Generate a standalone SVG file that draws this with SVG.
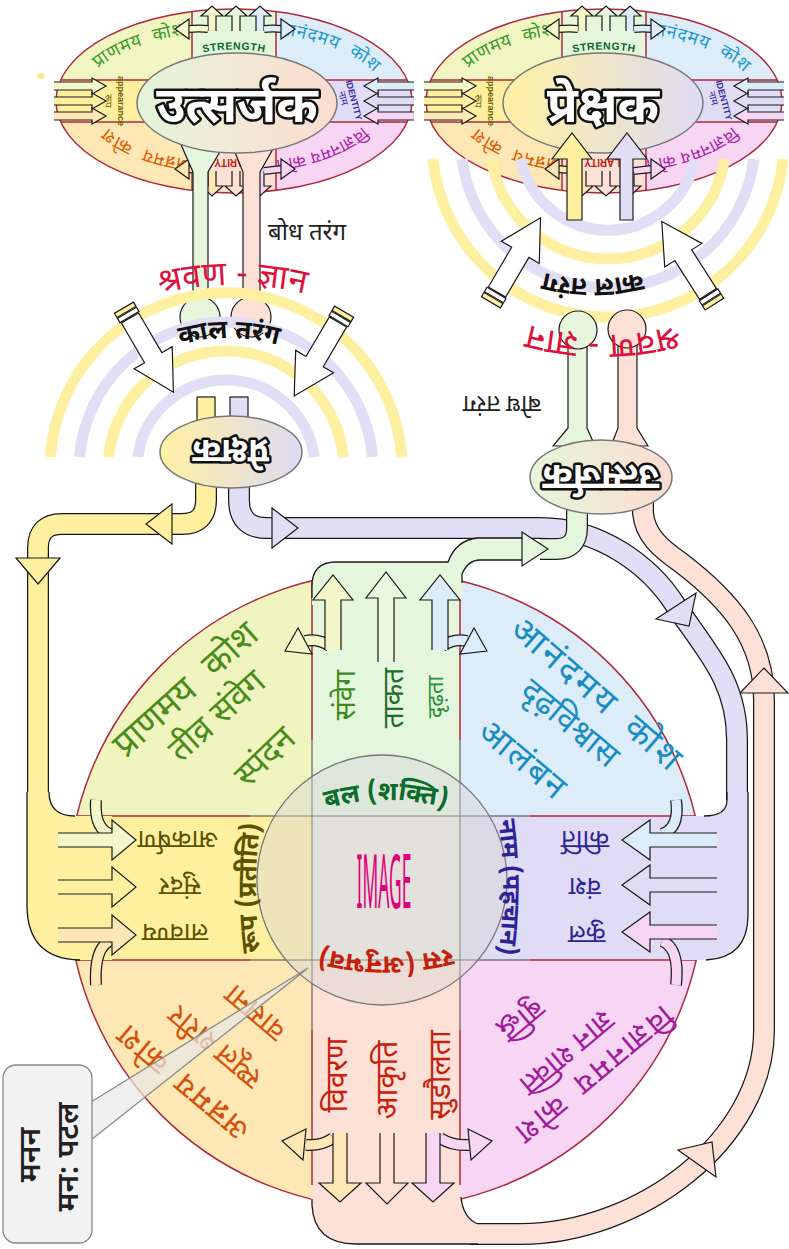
<svg xmlns="http://www.w3.org/2000/svg" width="789" height="1249" viewBox="0 0 789 1249">
<defs>
<style>
text{font-family:"Noto Sans Devanagari","Noto Sans","DejaVu Sans",sans-serif}
.en{font-family:"Liberation Sans",Arial,sans-serif;font-weight:bold}
.k{fill:none;stroke:#1a1a1a;stroke-width:1.3}
.a{stroke:#1a1a1a;stroke-width:1.2}
.rd{fill:none;stroke:#b0283c;stroke-width:1.5}
.gl{fill:none;stroke:#444;stroke-width:1}
.ol{fill:#fff;stroke:#111;stroke-width:5;stroke-linejoin:round;paint-order:stroke;font-weight:bold}
.bo{fill:none;stroke:#1a1a1a;stroke-width:22}
.arcs path{fill:none;stroke-width:11}
.ay{stroke:#fdf0a0}
.al{stroke:#e2def5}
.hk{fill:none;stroke:#1a1a1a;stroke-width:12}
</style>
<linearGradient id="gGP" x1="0" x2="1"><stop offset="0" stop-color="#e4f5da"/><stop offset="1" stop-color="#fddcd0"/></linearGradient>
<linearGradient id="gYL" x1="0" x2="1"><stop offset="0" stop-color="#fff1a3"/><stop offset="1" stop-color="#dedaf2"/></linearGradient>
<clipPath id="cMain"><circle cx="386" cy="890" r="318"/></clipPath>
<clipPath id="cEl"><ellipse cx="0" cy="0" rx="178" ry="92"/></clipPath>
<path id="eTL" d="M-152,-10 A152,70 0 0 1 -21,-69"/>
<path id="eTR" d="M21,-69 A152,70 0 0 1 152,-10"/>
<path id="eBL" d="M-24,61 A140,62 0 0 1 -138,11"/>
<path id="eBR" d="M138,11 A140,62 0 0 1 24,61"/>
<path id="eST" d="M-42,-46 Q0,-57 42,-46"/>
<path id="pSL" d="M120,306 Q232,264 345,306"/>
<path id="pKL" d="M165,350 Q229,326 293,350"/>
<path id="pSR" d="M716,312 Q603,358 490,312"/>
<path id="pKR" d="M662,266 Q593,292 524,266"/>
<path id="cTop" d="M308,815 Q386,785 464,815"/>
<path id="cBot" d="M462,945 Q386,968 310,945"/>
<path id="cLft" d="M262,964 Q250,888 262,812"/>
<path id="cRgt" d="M497,810 Q509,888 497,964"/>
<g id="bigArr">
<path d="M0,-10 H46 V-22 L86,0 L46,22 V10 H0 Z" fill="#fff" class="a"/>
<rect x="-6" y="-11" width="5" height="22" fill="#fff" class="a"/>
<rect x="-12" y="-11" width="5" height="22" fill="#fff0a0" class="a"/>
</g>
<g id="ellBase">
<g clip-path="url(#cEl)">
<rect x="-180" y="-95" width="138" height="74" fill="#f1f5c2"/>
<rect x="-42" y="-95" width="84" height="74" fill="#e4f6dc"/>
<rect x="42" y="-95" width="138" height="74" fill="#dcecf9"/>
<rect x="-180" y="-21" width="138" height="42" fill="#fff0a0"/>
<rect x="-42" y="-21" width="84" height="42" fill="#ece9df"/>
<rect x="42" y="-21" width="138" height="42" fill="#e1dcf5"/>
<rect x="-180" y="21" width="138" height="74" fill="#fde8b5"/>
<rect x="-42" y="21" width="84" height="74" fill="#fde0d6"/>
<rect x="42" y="21" width="138" height="74" fill="#f7d6f3"/>
</g>
<ellipse rx="178" ry="92" class="rd"/>
<path class="rd" d="M-42,-89 V-21 M42,-89 V-21 M-42,21 V89 M42,21 V89 M-173,-21 H-42 M42,-21 H173 M-173,21 H-42 M42,21 H173"/>
<text font-size="18" fill="#3a9a2a" letter-spacing="0.5" word-spacing="6"><textPath href="#eTL" startOffset="50%" text-anchor="middle">प्राणमय कोश</textPath></text>
<text font-size="18" fill="#1a9ad0" letter-spacing="0.8" word-spacing="6"><textPath href="#eTR" startOffset="50%" text-anchor="middle">आनंदमय कोश</textPath></text>
<text font-size="18" fill="#e05a00" letter-spacing="0.5" word-spacing="6"><textPath href="#eBL" startOffset="50%" text-anchor="middle">अन्नमय कोश</textPath></text>
<text font-size="17" fill="#b020b0" letter-spacing="0.3"><textPath href="#eBR" startOffset="50%" text-anchor="middle">विज्ञानमय कोश</textPath></text>
<text class="en" font-size="10.5" fill="#0a6a2a" letter-spacing="0.6"><textPath href="#eST" startOffset="50%" text-anchor="middle">STRENGTH</textPath></text>
<text class="en" font-size="9" fill="#6a6000" font-weight="normal" transform="translate(-116,0) rotate(90)" text-anchor="middle">appearance</text>
<text font-size="10" fill="#6a6000" transform="translate(-129,0) rotate(90)" text-anchor="middle">रूप</text>
<text class="en" font-size="9" fill="#3a2aa0" font-weight="normal" transform="translate(117,0) rotate(75)" text-anchor="middle">IDENTITY</text>
<text font-size="10" fill="#3a2aa0" transform="translate(106,-2) rotate(75)" text-anchor="middle">नाम</text>
<text class="en" font-size="10" fill="#c02010" transform="translate(2,58) rotate(180)" text-anchor="middle">CLARITY</text>
<g class="a">
<path d="M-26,-70 V-85 H-33 L-22,-95 L-11,-85 H-18 V-70" fill="#f4f7c8"/>
<path d="M-2,-70 V-85 H-9 L2,-95 L13,-85 H6 V-70" fill="#eaf8e2"/>
<path d="M22,-70 V-85 H15 L26,-95 L37,-85 H30 V-70" fill="#dcecf9"/>
<path d="M-180,-19 H-142 V-23 L-128,-15 L-142,-7 V-11 H-180" fill="#f4f7c8"/>
<path d="M-180,-4 H-142 V-8 L-128,0 L-142,8 V4 H-180" fill="#fff0a0"/>
<path d="M-180,11 H-142 V7 L-128,15 L-142,23 V19 H-180" fill="#fde8b5"/>
<path d="M180,-19 H144 V-23 L130,-15 L144,-7 V-11 H180" fill="#dcecf9"/>
<path d="M180,-4 H144 V-8 L130,0 L144,8 V4 H180" fill="#e1dcf5"/>
<path d="M180,11 H144 V7 L130,15 L144,23 V19 H180" fill="#f7d6f3"/>
<path d="M-26,70 V85 H-33 L-22,95 L-11,85 H-18 V70" fill="#fde8b5"/>
<path d="M-2,70 V85 H-9 L2,95 L13,85 H6 V70" fill="#fde0d6"/>
<path d="M22,70 V85 H15 L26,95 L37,85 H30 V70" fill="#f7d6f3"/>
</g>
<path d="M-26,-72 Q-34,-73 -46,-72 M30,-72 Q38,-73 48,-72 M-26,70 Q-34,69 -46,68 M30,70 Q38,69 48,68" fill="none" stroke="#1a1a1a" stroke-width="8"/>
<path d="M-26,-72 Q-34,-73 -46,-72" fill="none" stroke="#f4f7c8" stroke-width="5.5"/>
<path d="M30,-72 Q38,-73 48,-72" fill="none" stroke="#dcecf9" stroke-width="5.5"/>
<path d="M-26,70 Q-34,69 -46,68" fill="none" stroke="#fde8b5" stroke-width="5.5"/>
<path d="M30,70 Q38,69 48,68" fill="none" stroke="#f7d6f3" stroke-width="5.5"/>
<g class="a">
<polygon points="-45,-82 -59,-72 -45,-62" fill="#f4f7c8"/>
<polygon points="47,-82 61,-72 47,-62" fill="#dcecf9"/>
<polygon points="-45,58 -59,68 -45,78" fill="#fde8b5"/>
<polygon points="47,58 61,68 47,78" fill="#f7d6f3"/>
</g>
</g>
</defs>

<rect width="789" height="1249" fill="#fff"/>

<g id="emitter-top">
<use href="#ellBase" transform="translate(234,101)"/>
<polygon points="179,140 227,140 208,172 208,302 193,302 193,172" fill="#e6f6dc" class="a"/>
<polygon points="230,140 278,140 260,172 260,302 243,302 243,172" fill="#fde0d6" class="a"/>
<ellipse cx="237" cy="103" rx="100" ry="50" fill="url(#gGP)" stroke="#777" stroke-width="1.5"/>
<text x="237" y="122" font-size="50" class="ol" text-anchor="middle">उत्सर्जक</text>
<ellipse cx="41" cy="76" rx="4" ry="3" fill="#fde98a"/>
</g>

<g id="observer-top">
<use href="#ellBase" transform="translate(604,101)"/>
<ellipse cx="603" cy="103" rx="100" ry="50" fill="url(#gYL)" stroke="#777" stroke-width="1.5"/>
<text x="603" y="122" font-size="50" class="ol" text-anchor="middle">प्रेक्षक</text>
</g>

<g id="left-bulbs" class="a">
<circle cx="200" cy="317" r="20" fill="#e6f6dc"/>
<circle cx="251" cy="317" r="20" fill="#fde0d6"/>
</g>

<g class="arcs" id="waves">
<path class="ay" d="M50.4,457 A176,176 0 0 1 401.6,457"/>
<path class="al" d="M79.5,457 A147,147 0 0 1 372.5,457"/>
<path class="ay" d="M108.6,457 A118,118 0 0 1 343.4,457"/>
<path class="al" d="M137.8,457 A89,89 0 0 1 314.2,457"/>
<path class="ay" d="M432.9,159 A176,176 0 0 0 783.1,159"/>
<path class="al" d="M462.1,159 A147,147 0 0 0 753.9,159"/>
<path class="ay" d="M491.4,159 A118,118 0 0 0 724.6,159"/>
<path class="al" d="M520.8,159 A89,89 0 0 0 695.2,159"/>
</g>

<g id="right-stems" class="a">
<polygon points="568,340 587,340 587,428 595,446 553,446 568,428" fill="#e6f6dc"/>
<polygon points="618,340 637,340 637,428 648,446 611,446 618,428" fill="#fde0d6"/>
<circle cx="578" cy="330" r="19" fill="#e6f6dc"/>
<circle cx="627" cy="329" r="19" fill="#fde0d6"/>
<path d="M567,220 V159 H552 L572,133 L592,159 H582 V220 Z" fill="#fff0a0"/>
<path d="M620,220 V159 H607 L627,133 L647,159 H633 V220 Z" fill="#e2def5"/>
</g>

<g id="wave-arrows">
<use href="#bigArr" transform="translate(130,318) rotate(59.7)"/>
<use href="#bigArr" transform="translate(338,322) rotate(120.6)"/>
<use href="#bigArr" transform="translate(497,292) rotate(-59.6)"/>
<use href="#bigArr" transform="translate(708,294) rotate(-122.5)"/>
</g>

<g id="labels-top">
<text x="268" y="240" font-size="24" fill="#222">बोध तरंग</text>
<text font-size="34" fill="#e0103c"><textPath href="#pSL" startOffset="50%" text-anchor="middle">श्रवण - ज्ञान</textPath></text>
<text font-size="26" font-weight="bold" fill="#111"><textPath href="#pKL" startOffset="50%" text-anchor="middle">काल तरंग</textPath></text>
<text font-size="35" fill="#e0103c"><textPath href="#pSR" startOffset="50%" text-anchor="middle">श्रवण - ज्ञान</textPath></text>
<text font-size="26" font-weight="bold" fill="#111"><textPath href="#pKR" startOffset="50%" text-anchor="middle">काल तरंग</textPath></text>
<text font-size="24" fill="#222" transform="translate(502,404) rotate(180)" y="8" text-anchor="middle">बोध तरंग</text>
</g>

<g id="main-circle">
<g clip-path="url(#cMain)">
<rect x="60" y="560" width="252" height="256" fill="#f0f5c0"/>
<rect x="312" y="560" width="148" height="256" fill="#e4f6dc"/>
<rect x="460" y="560" width="260" height="256" fill="#dcecf9"/>
<rect x="60" y="816" width="252" height="144" fill="#fff0a0"/>
<rect x="312" y="816" width="148" height="144" fill="#ece9df"/>
<rect x="460" y="816" width="260" height="144" fill="#e1dcf5"/>
<rect x="60" y="960" width="252" height="260" fill="#fde8b5"/>
<rect x="312" y="960" width="148" height="260" fill="#fde0d6"/>
<rect x="460" y="960" width="260" height="260" fill="#f7d6f3"/>
</g>
<circle cx="386" cy="890" r="318" class="rd"/>
<path class="rd" d="M312,581 V740 M460,581 V740 M312,1030 V1199 M460,1030 V1199 M77,816 H250 M530,816 H695 M76,960 H250 M530,960 H696"/>
<path class="gl" d="M312,740 V1030 M460,740 V1030 M250,816 H530 M250,960 H530"/>
</g>

<g id="connectors">
<path class="bo" d="M643,500 V513 C645,535 660,548 680,562 C730,600 764,640 764,700 V1030 C764,1140 640,1234 520,1234 H470"/>
<path fill="none" stroke="#fde0d6" stroke-width="19.5" d="M643,500 V513 C645,535 660,548 680,562 C730,600 764,640 764,700 V1030 C764,1140 640,1234 520,1234 H470"/>
<path fill="#fde0d6" d="M311,1185 V1205 Q313,1244 356,1244 H478 V1224 Q463,1218 461,1197 V1185 Z"/>
<path class="k" d="M312,1199 V1205 Q314,1244 356,1244 H478 M461,1197 Q463,1218 478,1224"/>
<polygon points="740,693 764,668 788,693" fill="#fde0d6" class="a"/>
<polygon points="678,1150 712,1142 716,1177" fill="#fde0d6" class="a"/>
<path class="bo" d="M206,480 V500 Q206,524 182,524 H62 Q38,524 38,548 V800"/>
<path fill="none" stroke="#fff0a0" stroke-width="19.5" d="M206,480 V500 Q206,524 182,524 H62 Q38,524 38,548 V800"/>
<path fill="#fff0a0" d="M27,792 V905 Q27,959 80,960 H112 V816 H75 Q49,816 49,792 Z"/>
<path class="k" d="M27,792 V905 Q27,959 80,960 M49,792 Q49,816 75,816"/>
<polygon points="172,504 146,524 172,544" fill="#fff0a0" class="a"/>
<polygon points="16,558 38,584 60,558" fill="#fff0a0" class="a"/>
<path class="bo" d="M239,480 V500 Q239,528 267,528 H540 C600,528 650,565 676,606 C705,650 737,680 737,740 V800"/>
<path fill="none" stroke="#e2def5" stroke-width="19.5" d="M239,480 V500 Q239,528 267,528 H540 C600,528 650,565 676,606 C705,650 737,680 737,740 V800"/>
<path fill="#e1dcf5" d="M727,792 V800 Q727,816 704,816 H672 V960 H706 Q748,958 748,915 V792 Z"/>
<path class="k" d="M727,792 V800 Q727,816 704,816 M748,792 V915 Q748,958 706,960"/>
<polygon points="272,508 298,528 272,548" fill="#e2def5" class="a"/>
<polygon points="656,619 689,626 696,593" fill="#e2def5" class="a"/>
<path class="bo" d="M577,500 V528 Q577,549 556,549 H540"/>
<path fill="none" stroke="#e4f6dc" stroke-width="19.5" d="M577,500 V528 Q577,549 556,549 H540"/>
<path fill="#e4f6dc" d="M312,605 V586 Q312,562 336,562 H448 Q456,540 478,538 H526 V560 H480 Q468,560 462,574 V600 Z"/>
<path class="k" d="M312,598 V586 Q312,562 336,562 H448 Q456,540 478,538 H526 M526,560 H480 Q468,560 462,574 V583"/>
<polygon points="522,532 548,549 522,566" fill="#e4f6dc" class="a"/>
</g>

<g id="flow-arrows">
<path class="hk" d="M330,646 Q318,638 305,641"/>
<path fill="none" stroke="#f2f6c8" stroke-width="9.5" d="M330,646 Q318,638 305,641"/>
<path class="hk" d="M442,646 Q454,638 467,641"/>
<path fill="none" stroke="#dcecf9" stroke-width="9.5" d="M442,646 Q454,638 467,641"/>
<g class="a">
<path d="M325,650 V600 H313 L333,575 L353,600 H341 V650" fill="#f2f6c8"/>
<path d="M378,662 V598 H366 L386,572 L406,598 H394 V662" fill="#eaf8e2"/>
<path d="M432,650 V600 H420 L440,575 L460,600 H448 V650" fill="#dcecf9"/>
<polygon points="298,628 285,651 312,654" fill="#f2f6c8"/>
<polygon points="474,628 487,651 460,654" fill="#dcecf9"/>
</g>
<path class="hk" d="M333,1138 Q322,1146 306,1145"/>
<path fill="none" stroke="#fde8b5" stroke-width="9.5" d="M333,1138 Q322,1146 306,1145"/>
<path class="hk" d="M440,1138 Q452,1146 469,1145"/>
<path fill="none" stroke="#f7d6f3" stroke-width="9.5" d="M440,1138 Q452,1146 469,1145"/>
<g class="a">
<path d="M333,1133 V1183 H319 L340,1202 L361,1183 H347 V1133" fill="#fde8b5"/>
<path d="M380,1133 V1183 H366 L387,1204 L408,1183 H394 V1133" fill="#fde0d6"/>
<path d="M426,1133 V1183 H412 L433,1202 L454,1183 H440 V1133" fill="#f7d6f3"/>
<polygon points="306,1129 282,1141 303,1160" fill="#fde8b5"/>
<polygon points="468,1129 492,1141 471,1160" fill="#f7d6f3"/>
</g>
<path class="hk" d="M96,800 Q94,828 110,834 M110,941 Q94,948 96,985 M676,800 Q680,828 662,834 M662,941 Q680,948 676,985"/>
<path fill="none" stroke="#f2f6c8" stroke-width="9.5" d="M96,800 Q94,828 110,834"/>
<path fill="none" stroke="#fde8b5" stroke-width="9.5" d="M110,941 Q94,948 96,985"/>
<path fill="none" stroke="#dcecf9" stroke-width="9.5" d="M676,800 Q680,828 662,834"/>
<path fill="none" stroke="#f7d6f3" stroke-width="9.5" d="M662,941 Q680,948 676,985"/>
<g class="a">
<path d="M58,833 H112 V820 L136,840 L112,860 V847 H58" fill="#f2f6c8"/>
<path d="M58,880 H112 V867 L136,887 L112,907 V894 H58" fill="#fff0a0"/>
<path d="M58,928 H112 V915 L136,935 L112,955 V942 H58" fill="#fde8b5"/>
<path d="M717,833 H650 V820 L622,840 L650,860 V847 H717" fill="#dcecf9"/>
<path d="M717,878 H650 V865 L622,885 L650,905 V892 H717" fill="#e1dcf5"/>
<path d="M717,925 H650 V912 L622,932 L650,952 V939 H717" fill="#f7d6f3"/>
</g>
</g>

<g id="observer-mid">
<rect x="197" y="397" width="18" height="30" fill="#fff0a0" class="a"/>
<rect x="230" y="397" width="18" height="30" fill="#e2def5" class="a"/>
<ellipse cx="231" cy="452" rx="71" ry="36" fill="url(#gYL)" stroke="#777" stroke-width="1.5"/>
<text font-size="34" class="ol" text-anchor="middle" transform="translate(231,452) rotate(180)" y="12">प्रेक्षक</text>
</g>
<g id="emitter-mid">
<ellipse cx="601" cy="477" rx="71" ry="37" fill="url(#gGP)" stroke="#777" stroke-width="1.5"/>
<text font-size="36" class="ol" text-anchor="middle" transform="translate(601,477) rotate(180)" y="12">उत्सर्जक</text>
</g>

<g id="q-pranamaya" fill="#4a8c1c" text-anchor="middle">
<text transform="translate(186,690) rotate(-42)" y="11" font-size="36" word-spacing="12">प्राणमय कोश</text>
<text transform="translate(217,716) rotate(-42)" y="11" font-size="34">तीव्र संवेग</text>
<text transform="translate(265,757) rotate(-44)" y="11" font-size="34">स्पंदन</text>
</g>
<g id="q-anandamaya" fill="#1a8cc4" text-anchor="middle">
<text transform="translate(597,695) rotate(41)" y="11" font-size="35" letter-spacing="3" word-spacing="8">आनंदमय कोश</text>
<text transform="translate(570,723) rotate(40)" y="11" font-size="33">दृढ़विश्वास</text>
<text transform="translate(523,760) rotate(40)" y="11" font-size="34" letter-spacing="2">आलंबन</text>
</g>
<g id="q-annamaya" fill="#d4520c" text-anchor="middle">
<text transform="translate(183,1082) rotate(220)" y="10" font-size="32" letter-spacing="2" word-spacing="6">अन्नमय कोश</text>
<text transform="translate(215,1047) rotate(220)" y="10" font-size="30">स्थूल शरीर</text>
<text transform="translate(255,1013) rotate(220)" y="10" font-size="30">वासना</text>
</g>
<g id="q-vijnanamaya" fill="#a01c9c" text-anchor="middle">
<text transform="translate(593,1075) rotate(140)" y="10" font-size="31" letter-spacing="3" word-spacing="6">विज्ञानमय कोश</text>
<text transform="translate(567,1053) rotate(140)" y="10" font-size="30">ज्ञान शक्ति</text>
<text transform="translate(522,1020) rotate(140)" y="10" font-size="30">बुद्धि</text>
</g>
<g id="band-left" fill="#5a5200" font-size="26" text-anchor="middle">
<text transform="translate(178,840) rotate(180)" y="9">आकर्षण</text>
<text transform="translate(180,887) rotate(180)" y="9">सुंदर</text>
<text transform="translate(175,933) rotate(180)" y="9">लावण्य</text>
</g>
<g id="band-right" fill="#2c2494" font-size="26" text-anchor="middle">
<text transform="translate(585,840) rotate(180)" y="9">कीर्ति</text>
<text transform="translate(585,887) rotate(180)" y="9">वंश</text>
<text transform="translate(587,935) rotate(180)" y="9">कुल</text>
</g>
<g id="col-top" text-anchor="middle">
<text transform="translate(345,695) rotate(-90)" y="10" font-size="28" fill="#3c8c1c">संवेग</text>
<text transform="translate(393,698) rotate(-90)" y="10" font-size="28" fill="#1c6c2c">ताकत</text>
<text transform="translate(435,697) rotate(-90)" y="8" font-size="22" fill="#2c8c3c">दृढ़ता</text>
</g>
<g id="col-bottom" text-anchor="middle" fill="#c4200c" font-size="30">
<text transform="translate(337,1075) rotate(-90)" y="10">विवरण</text>
<text transform="translate(387,1080) rotate(-90)" y="10">आकृति</text>
<text transform="translate(440,1075) rotate(-90)" y="10">सुडौलता</text>
</g>

<g id="center">
<circle cx="382" cy="880" r="125" fill="#d6d6d6" fill-opacity="0.45" stroke="#777" stroke-width="1.3"/>
<text font-size="26" font-weight="bold" fill="#0c6c2c"><textPath href="#cTop" startOffset="50%" text-anchor="middle">बल (शक्ति)</textPath></text>
<text font-size="26" font-weight="bold" fill="#c4200c"><textPath href="#cBot" startOffset="50%" text-anchor="middle">रस (अनुभव)</textPath></text>
<text font-size="26" font-weight="bold" fill="#5a5200"><textPath href="#cLft" startOffset="50%" text-anchor="middle">रूप (प्रतीति)</textPath></text>
<text font-size="25" font-weight="bold" fill="#2c2494"><textPath href="#cRgt" startOffset="50%" text-anchor="middle">नाम (पहचान)</textPath></text>
<text transform="translate(384,908) scale(0.235,1)" font-family="Liberation Sans,sans-serif" font-size="74" fill="#e0007c" text-anchor="middle">IMAGE</text>
</g>

<g id="callout">
<polygon points="91,1102 308,968 91,1140" fill="#e8e8e8" fill-opacity="0.7" stroke="#888" stroke-width="1.3"/>
<rect x="3" y="1065" width="89" height="178" rx="13" fill="#f2f2f2" stroke="#888" stroke-width="1.3"/>
<text transform="translate(40,1155) rotate(-90)" font-size="30" font-weight="600" fill="#222" text-anchor="middle">मनन</text>
<text transform="translate(78,1157) rotate(-90)" font-size="30" font-weight="600" fill="#222" text-anchor="middle">मन: पटल</text>
</g>
</svg>
